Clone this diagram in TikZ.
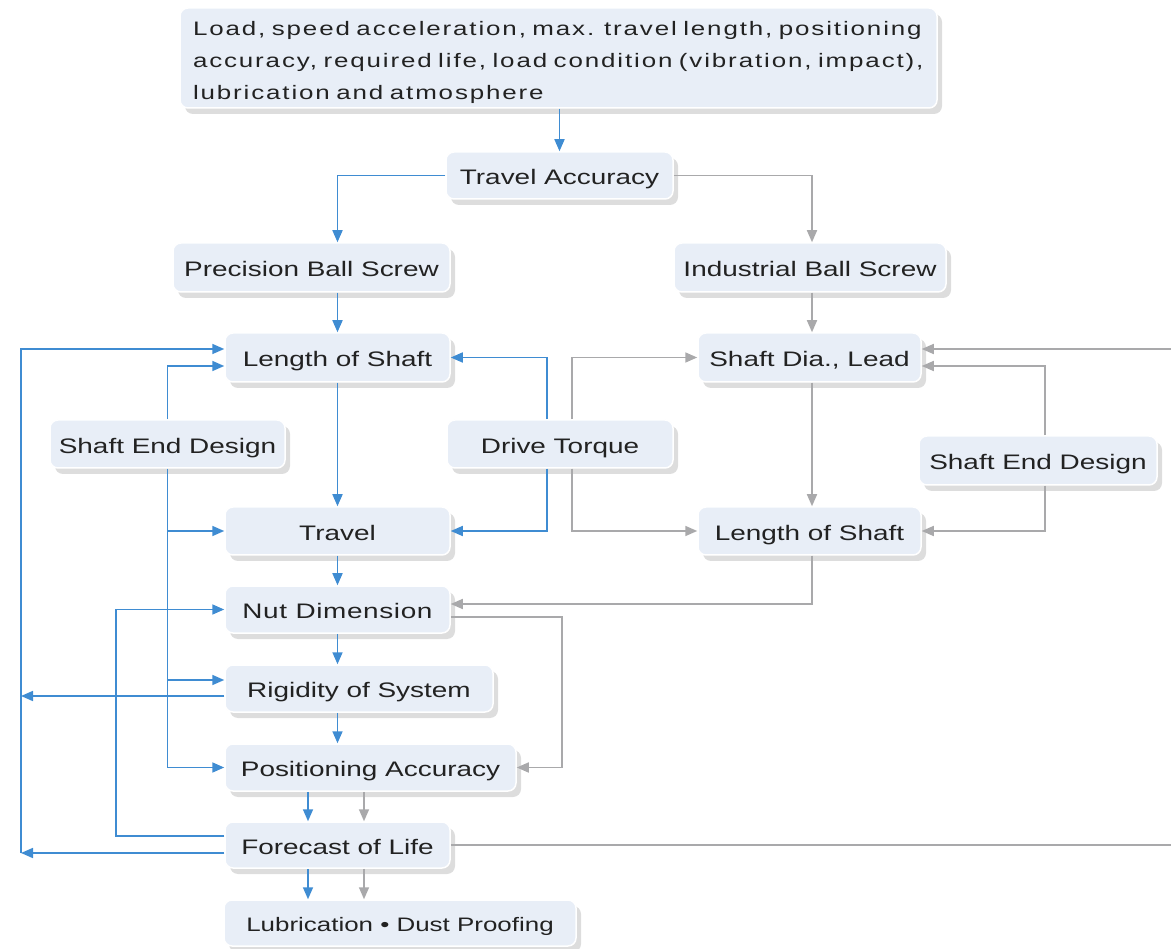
\documentclass[tikz,border=0pt]{standalone}
\usepackage{fontspec}
\setmainfont{Liberation Sans}[FakeStretch=1.33]
\newfontfamily\topfont{Liberation Sans}[FakeStretch=1.33,LetterSpace=9.6]
\usetikzlibrary{arrows.meta,shadows}
\definecolor{boxfill}{HTML}{E8EEF7}
\definecolor{lblue}{HTML}{3F8CD2}
\definecolor{lgrey}{HTML}{A9A9AB}
\definecolor{txt}{HTML}{222222}
\definecolor{shad}{HTML}{DDDDDD}
\begin{document}
\begin{tikzpicture}[x=1pt,y=-1pt,
  boxbase/.style={rounded corners=8pt, fill=boxfill, draw=white, line width=1.5pt,
    text=txt, inner sep=0pt,
    drop shadow={shadow xshift=5pt, shadow yshift=-6pt, fill=shad, opacity=1}},
  box/.style={boxbase, font=\fontsize{21}{25}\selectfont, text height=18.5pt, text depth=0pt},
  bline/.style={draw=lblue, line width=1.7pt},
  barr/.style={bline, -{Triangle[length=12pt,width=10pt]}},
  gline/.style={draw=lgrey, line width=1.7pt},
  garr/.style={gline, -{Triangle[length=12pt,width=10pt]}}]
\useasboundingbox (0,0) rectangle (1171,949);
% nodes
\node[boxbase, minimum width=757pt, minimum height=100pt, align=left, text width=731pt,
  font={\topfont\fontsize{19.5}{32}\selectfont}] (top) at (558.5,58)
  {\rule{0pt}{24pt}Load, speed acceleration, max. travel length, positioning\\
   accuracy, required life, load condition (vibration, impact),\\
   lubrication and atmosphere};
\node[box, minimum width=227pt, minimum height=47pt] (ta) at (559.5,175.5) {Travel Accuracy};
\node[box, minimum width=277pt, minimum height=49pt] (pbs) at (311.5,267.5) {Precision Ball Screw};
\node[box, minimum width=272pt, minimum height=49pt] (ibs) at (810,267.5) {Industrial Ball Screw};
\node[box, minimum width=225pt, minimum height=49pt] (los) at (337.5,357.5) {Length of Shaft};
\node[box, minimum width=235pt, minimum height=48pt] (sedL) at (167.5,444) {Shaft End Design};
\node[box, minimum width=225pt, minimum height=48pt] (trav) at (337.5,531) {Travel};
\node[box, minimum width=226pt, minimum height=48pt] (dt) at (560,444) {Drive Torque};
\node[box, minimum width=223pt, minimum height=49pt] (sdl) at (809.5,357.5) {Shaft Dia., Lead};
\node[box, minimum width=238pt, minimum height=49pt] (sedR) at (1038,460.5) {Shaft End Design};
\node[box, minimum width=223pt, minimum height=48pt] (losR) at (809.5,531) {Length of Shaft};
\node[box, minimum width=225pt, minimum height=47pt] (nut) at (337.5,609.5) {\addfontfeature{LetterSpace=3}Nut Dimension};
\node[box, minimum width=268pt, minimum height=47pt] (rig) at (359,688.5) {Rigidity of System};
\node[box, minimum width=291pt, minimum height=47pt] (pos) at (370.5,767.5) {Positioning Accuracy};
\node[box, minimum width=225pt, minimum height=46pt] (fol) at (337.5,845) {Forecast of Life};
\node[box, minimum width=352pt, minimum height=46pt, font=\fontsize{19.5}{24}\selectfont, text height=17.5pt] (lub) at (400,923) {Lubrication \textbullet\ Dust Proofing};
% helper coordinates
\coordinate (L) at (21,0);
\coordinate (M) at (116,0);
\coordinate (G) at (562,0);
\coordinate (R) at (1171,0);
\coordinate (losA) at ([yshift=8.5pt]los.west);
\coordinate (losB) at ([yshift=-8.5pt]los.west);
\coordinate (rigA) at ([yshift=8.5pt]rig.west);
\coordinate (rigB) at ([yshift=-7.5pt]rig.west);
\coordinate (folA) at ([yshift=9pt]fol.west);
\coordinate (folB) at ([yshift=-8pt]fol.west);
\coordinate (sdlA) at ([yshift=8.5pt]sdl.east);
\coordinate (sdlB) at ([yshift=-8.5pt]sdl.east);
\coordinate (nutA) at ([yshift=5.5pt]nut.east);
\coordinate (nutB) at ([yshift=-7.5pt]nut.east);
\coordinate (colB) at ([xshift=-29.5pt]fol.north);
\coordinate (colG) at ([xshift=26.5pt]fol.north);
\coordinate (colR) at ([xshift=2pt]ibs.south);
% blue connectors
\draw[barr] (top.south -| ta.north) -- (ta.north);
\draw[barr] (ta.west) -| (pbs.north -| los.north);
\draw[barr] (pbs.south -| los.north) -- (los.north);
\draw[barr] (los.south) -- (trav.north);
\draw[barr] (trav.south) -- (nut.north);
\draw[barr] (nut.south) -- (rig.north -| nut.south);
\draw[barr] (rig.south -| nut.south) -- (pos.north -| nut.south);
\draw[barr] (pos.south -| colB) -- (colB);
\draw[barr] (fol.south -| colB) -- (lub.north -| colB);
\draw[barr] ([xshift=-13pt]dt.north) |- (los.east);
\draw[barr] ([xshift=-13pt]dt.south) |- (trav.east);
\draw[barr] (sedL.north) |- (losB);
\draw[barr] (sedL.south) |- (pos.west);
\draw[barr] (sedL.south |- trav.west) -- (trav.west);
\draw[barr] (sedL.south |- rigA) -- (rigA);
\draw[barr] (rigB) -- (L |- rigB);
\draw[barr] (folB) -- (L |- folB);
\draw[barr] (L |- folB) |- (losA);
\draw[barr] (folA) -| (M |- nut.west) -- (nut.west);
% grey connectors
\draw[garr] (ta.east) -| (ibs.north -| colR);
\draw[garr] (colR) -- (sdl.north -| colR);
\draw[garr] (sdl.south -| colR) -- (losR.north -| colR);
\draw[garr] ([xshift=12pt]dt.north) |- (sdl.west);
\draw[garr] ([xshift=12pt]dt.south) |- (losR.west);
\draw[garr] ([xshift=7pt]sedR.north) |- (sdlB);
\draw[garr] ([xshift=7pt]sedR.south) |- (losR.east);
\draw[garr] (R |- sdlA) -- (sdlA);
\draw[gline] (fol.east) -- (R |- fol.east);
\draw[garr] (losR.south -| colR) |- (nutA);
\draw[garr] (nutB) -| (G |- pos.east) -- (pos.east);
\draw[garr] (pos.south -| colG) -- (colG);
\draw[garr] (fol.south -| colG) -- (lub.north -| colG);
\end{tikzpicture}
\end{document}
